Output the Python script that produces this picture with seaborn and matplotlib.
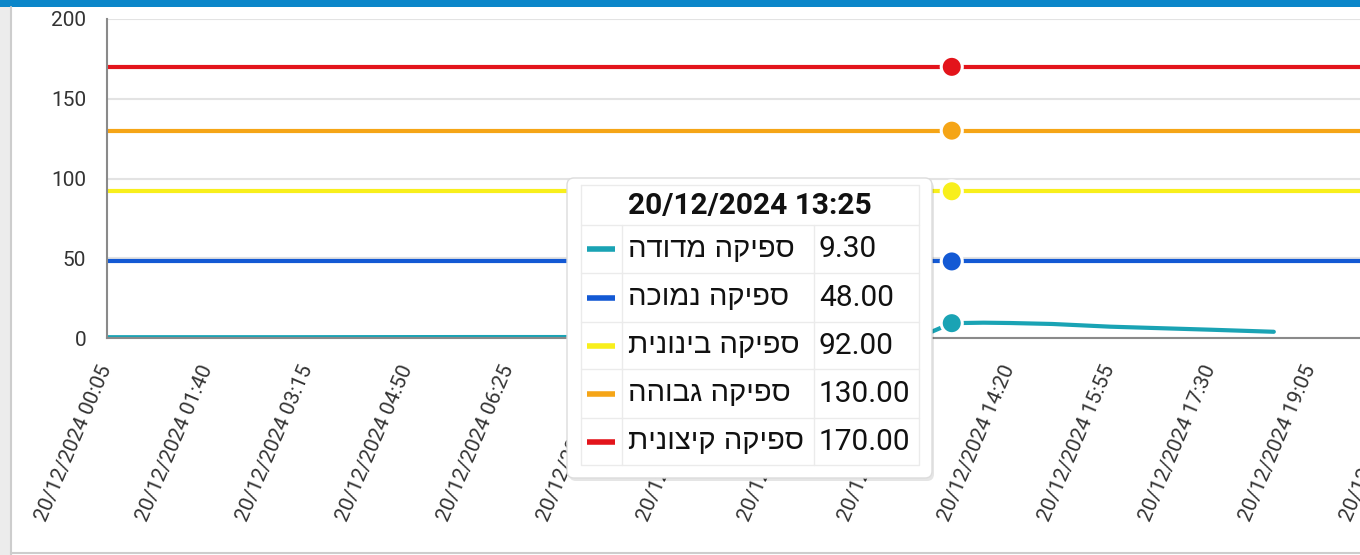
import pandas as pd
import seaborn as sns
import matplotlib.pyplot as plt
from matplotlib.patches import FancyBboxPatch, Rectangle

# series (Hebrew names in logical order) and their colours
series_names = ["ספיקה מדודה", "ספיקה נמוכה", "ספיקה בינונית", "ספיקה גבוהה", "ספיקה קיצונית"]
series_colors = ["#1aa3b4", "#1359d4", "#f8ef1c", "#f5a517", "#e3141b"]

measured_times = ["00:05", "03:00", "06:00", "09:00", "12:00", "12:55", "13:25",
                  "13:55", "14:20", "15:00", "15:55", "17:30", "18:30"]
measured_values = [0.5, 0.5, 0.6, 0.6, 0.7, 0.8, 9.3, 9.6, 9.4, 8.8, 7.1, 5.2, 3.9]

# threshold levels: low, medium, high, extreme
threshold_levels = [48, 92, 130, 170]
threshold_span = ["00:05", "23:55"]

# hovered point (tooltip)
hover_time = "13:25"
hover_values = [9.30, 48.00, 92.00, 130.00, 170.00]

x_tick_times = ["00:05", "01:40", "03:15", "04:50", "06:25", "08:00", "09:35",
                "11:10", "12:45", "14:20", "15:55", "17:30", "19:05", "20:40"]
y_ticks = [0, 50, 100, 150, 200]

day = "2024-12-20 "
palette = dict(zip(series_names, series_colors))


def heb(s):
    # matplotlib has no bidi support: put Hebrew in visual order
    return s[::-1]


rows = [(series_names[0], pd.Timestamp(day + t), v)
        for t, v in zip(measured_times, measured_values)]
for name, level in zip(series_names[1:], threshold_levels):
    for t in threshold_span:
        rows.append((name, pd.Timestamp(day + t), level))
df = pd.DataFrame(rows, columns=["series", "time", "flow"])

hover_df = pd.DataFrame({"series": series_names,
                         "time": [pd.Timestamp(day + hover_time)] * len(series_names),
                         "flow": hover_values})

sns.set_style("white")
plt.rcParams["font.family"] = ["Roboto", "DejaVu Sans"]

W, H = 1360, 555
fig = plt.figure(figsize=(W / 100, H / 100), dpi=100)
ax = fig.add_axes([107 / W, (H - 338) / H, 1510 / W, 319 / H])

sns.lineplot(data=df, x="time", y="flow", hue="series", palette=palette,
             estimator=None, sort=False, linewidth=3, legend=False, ax=ax)
sns.scatterplot(data=hover_df, x="time", y="flow", hue="series", palette=palette,
                s=230, edgecolor="white", linewidth=2.2, legend=False, zorder=5, ax=ax)

ax.set_xlim(pd.Timestamp(day + threshold_span[0]), pd.Timestamp(day + threshold_span[1]))
ax.set_ylim(0, 200)
ax.set_yticks(y_ticks)
ax.set_yticklabels([str(v) for v in y_ticks])
ax.set_xticks([pd.Timestamp(day + t) for t in x_tick_times])
ax.set_xticklabels(["20/12/2024 " + t for t in x_tick_times], rotation=67,
                   ha="right", va="center", rotation_mode="anchor")
ax.set_xlabel("")
ax.set_ylabel("")
ax.yaxis.grid(True, color="#e3e3e3", linewidth=1.5)
ax.set_axisbelow(True)
for side in ["top", "right"]:
    ax.spines[side].set_visible(False)
for side in ["left", "bottom"]:
    ax.spines[side].set_color("#8a8a8a")
    ax.spines[side].set_linewidth(1.5)
ax.tick_params(axis="y", length=7, width=1.5, color="#8a8a8a", pad=8,
               labelsize=15, labelcolor="#333333")
ax.tick_params(axis="x", length=7, width=1.5, color="#8a8a8a", pad=13,
               labelsize=15, labelcolor="#333333")

# overlay in pixel units for the frame and the tooltip
ov = fig.add_axes([0, 0, 1, 1])
ov.set_xlim(0, W)
ov.set_ylim(H, 0)
ov.axis("off")

ov.add_patch(Rectangle((0, 0), W, 7, color="#0b86c9", lw=0))
ov.add_patch(Rectangle((0, 7), 10, H - 7, color="#ececec", lw=0))
ov.plot([11, 11], [7, H], color="#cdcdcd", lw=1.5)
ov.plot([11, W], [553, 553], color="#cdcdcd", lw=1.5)

# tooltip box
ov.add_patch(FancyBboxPatch((569, 181), 365, 300, boxstyle="round,pad=0,rounding_size=7",
                            fc="black", alpha=0.10, lw=0))
ov.add_patch(FancyBboxPatch((567, 178), 365, 300, boxstyle="round,pad=0,rounding_size=7",
                            fc="white", ec="#dcdcdc", lw=1))

grid_c = "#ebebeb"
row_lines = [225, 273, 322, 369, 418, 465]
ov.plot([581, 919, 919, 581, 581], [185, 185, 465, 465, 185], color=grid_c, lw=1)
for y in row_lines[:-1]:
    ov.plot([581, 919], [y, y], color=grid_c, lw=1)
for x in [622, 814]:
    ov.plot([x, x], [225, 465], color=grid_c, lw=1)

ov.text(750, 206, "20/12/2024 " + hover_time, ha="center", va="center",
        fontsize=21.5, fontweight="bold", color="#111111")
for i, (name, col, val) in enumerate(zip(series_names, series_colors, hover_values)):
    yc = (row_lines[i] + row_lines[i + 1]) / 2
    ov.plot([587, 615], [yc, yc], color=col, lw=4, solid_capstyle="butt")
    ov.text(628, yc, heb(name), ha="left", va="center", fontsize=21,
            family=["Liberation Sans", "DejaVu Sans"], color="#111111")
    ov.text(819, yc, f"{val:.2f}", ha="left", va="center", fontsize=21.5, color="#111111")

fig.savefig("out.png", dpi=100)
